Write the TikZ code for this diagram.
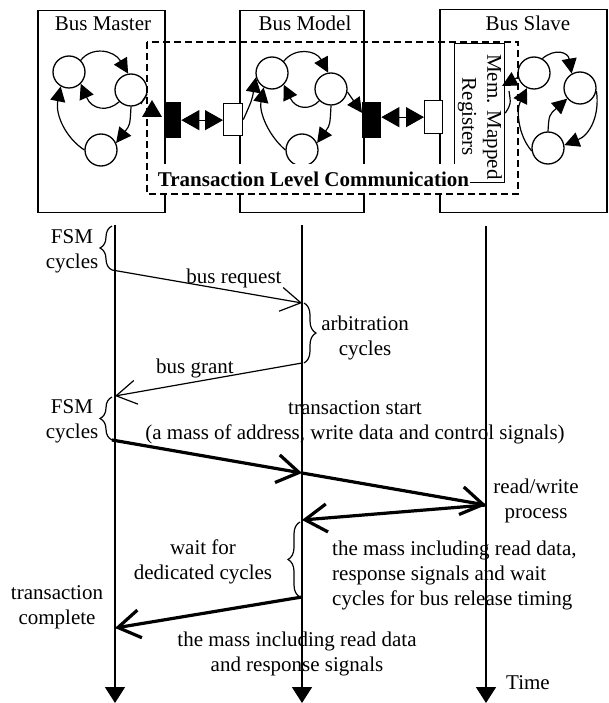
\documentclass[tikz,border=0pt]{standalone}
\usepackage{fontspec}
\setmainfont{Liberation Serif}
\usetikzlibrary{arrows.meta,decorations.pathreplacing,calc}

\begin{document}
\begin{tikzpicture}[x=1pt,y=-1pt,
  frame/.style={draw,line width=1.5pt,inner sep=0pt,anchor=north west},
  state/.style={circle,draw,fill=white,line width=1.3pt,minimum size=32pt,inner sep=0pt},
  fsmarrow/.style={line width=1.2pt,-{Triangle[length=15pt,width=15pt]}},
  port/.style={draw,line width=1.3pt,inner sep=0pt,anchor=north west},
  portarrow/.style={line width=1.2pt,{Triangle[length=18pt,width=20pt]}-{Triangle[length=18pt,width=20pt]}},
  title/.style={font=\fontsize{21}{25}\selectfont,inner sep=0pt,anchor=base},
  lbl/.style={font=\fontsize{21}{25}\selectfont,align=center,inner sep=0pt},
  lifeline/.style={line width=1.6pt,-{Triangle[length=16pt,width=20pt]}},
  msg/.style={line width=1.2pt,-{Straight Barb[length=20pt,width=24pt]}},
  bigmsg/.style={line width=3.2pt,-{Straight Barb[length=22pt,width=28pt]}},
  cbrace/.style={decorate,decoration={brace,amplitude=12pt},line width=1.2pt}
]
\useasboundingbox (0,0) rectangle (608,703);

% ---------- component frames ----------
\node[frame,minimum width=127pt,minimum height=202pt] (master) at (37,10) {};
\node[frame,minimum width=124pt,minimum height=202pt] (model) at (239,10) {};
\node[frame,minimum width=167pt,minimum height=203pt] (slave) at (439,9) {};
\node[title] (tmaster) at (103,30.5) {Bus Master};
\node[title] (tmodel) at (305,30.5) {Bus Model};
\node[title] (tslave) at (528,30.5) {Bus Slave};

% memory mapped registers
\node[frame,line width=1.3pt,minimum width=50pt,minimum height=139pt] (mem) at (454,43) {};
\node[lbl,rotate=-90] (memtxt) at (480,117) {Mem. Mapped\\Registers};

% ---------- ports ----------
\node[port,fill=black,minimum width=16pt,minimum height=35pt] (blk1) at (164,102) {};
\node[port,fill=white,minimum width=19pt,minimum height=32pt] (wht1) at (223,103) {};
\node[port,fill=black,minimum width=18pt,minimum height=35pt] (blk2) at (362,102) {};
\node[port,fill=white,minimum width=18pt,minimum height=33pt] (wht2) at (424,100) {};
\draw[portarrow] (blk1.east) -- (blk1.east -| wht1.west);
\draw[portarrow] (blk2.east |- wht2.west) -- (wht2.west);

% ---------- master FSM ----------
\node[state] (m1) at (69,72) {};
\node[state] (m2) at (131,90) {};
\node[state] (m3) at (101,150) {};
\draw[fsmarrow] (m1.45) .. controls (92,46) and (114,50) .. (m2.100);
\draw[fsmarrow] (m2.225) .. controls (108,112) and (92,110) .. (m1.-45);
\draw[fsmarrow] (m3.180) .. controls (66,138) and (55,115) .. (m1.240);
\draw[fsmarrow] (m2.-90) .. controls (130,125) .. (m3.25);
\draw[line width=1.2pt] (m2.-15) .. controls (143,100) .. (141,104);
\fill (142,117) -- (162,117) -- (152,100) -- cycle;

% ---------- model FSM ----------
\node[state] (d1) at (272,73) {};
\node[state] (d2) at (331,89) {};
\node[state] (d3) at (302,150) {};
\draw[fsmarrow] (d1.45) .. controls (295,47) and (316,50) .. (d2.100);
\draw[fsmarrow] (d2.225) .. controls (311,110) and (296,110) .. (d1.-45);
\draw[fsmarrow] (d3.180) .. controls (268,135) and (259,112) .. (d1.240);
\draw[fsmarrow] (d2.-90) .. controls (330,125) .. (d3.25);
\draw[fsmarrow] (wht1.east) .. controls (252,100) .. (d1.195);
\draw[fsmarrow] (d2.-10) -- ($(blk2.north west)!0.3!(blk2.south west)$);

% ---------- slave FSM ----------
\node[state] (s1) at (534,73) {};
\node[state] (s2) at (580,88) {};
\node[state] (s3) at (548,148) {};
\draw[fsmarrow] (s1.60) .. controls (555,48) and (568,52) .. (s2.120);
\draw[fsmarrow] (s3.90) .. controls (549,115) .. (s2.220);
\draw[fsmarrow] (s2.-10) .. controls (600,115) and (590,135) .. (s3.10);
\draw[fsmarrow] (s3.190) .. controls (518,135) and (516,110) .. (s1.245);
\coordinate (memin) at (502,86);
\draw[fsmarrow] (s1.195) -- (memin);
\draw[line width=1.2pt] (509,91) .. controls (511,104) .. (mem.east);

% ---------- transaction level communication ----------
\node[font=\bfseries\fontsize{21}{25}\selectfont,fill=white,inner xsep=1pt,inner ysep=8pt,anchor=base]
  (tlc) at (313.5,187) {Transaction Level Communication};
\draw[line width=1.5pt,dash pattern=on 7pt off 4pt] (147,42) rectangle (518,194);

% ---------- lifelines ----------
\coordinate (mTop) at (115,225); \coordinate (mBot) at (115,703);
\coordinate (dTop) at (302,225); \coordinate (dBot) at (302,703);
\coordinate (sTop) at (486,226); \coordinate (sBot) at (486,703);
\draw[lifeline] (mTop) -- (mBot);
\draw[lifeline] (dTop) -- (dBot);
\draw[lifeline] (sTop) -- (sBot);

% ---------- message points ----------
\coordinate (req0) at (112,270);  \coordinate (req1) at (302,303);
\coordinate (gnt0) at (302,363);  \coordinate (gnt1) at (115,396);
\coordinate (ts0) at (112,440);   \coordinate (ts1) at (302,473);
\coordinate (ts2) at (486,505);   \coordinate (rd1) at (302,520);
\coordinate (cp0) at (302,597);   \coordinate (cp1) at (115,628);

% braces
\draw[cbrace] (req0) -- (112,226);
\draw[cbrace] (304,303) -- (304,363);
\draw[cbrace] (ts0) -- (112,397);
\draw[cbrace] (300,597) -- (300,522);

% messages
\draw[msg] (req0) -- (req1);
\draw[msg] (gnt0) -- (gnt1);
\draw[bigmsg] (ts0) -- (ts1);
\draw[bigmsg] (ts1) -- (ts2);
\draw[bigmsg] (ts2) -- (rd1);
\draw[bigmsg] (cp0) -- (cp1);

% labels
\node[lbl] (lfsm1) at (72,251) {FSM\\cycles};
\node[lbl] (lreq) at (234,278) {bus request};
\node[lbl] (larb) at (365,338) {arbitration\\cycles};
\node[lbl] (lgnt) at (195,368) {bus grant};
\node[lbl] (lfsm2) at (72,421) {FSM\\cycles};
\node[lbl] (lts) at (355,422) {transaction start\\(a mass of address, write data and control signals)};
\node[lbl] (lrw) at (536,501) {read/write\\process};
\node[lbl,align=left,anchor=west] (lrd) at (332,575) {the mass including read data,\\response signals and wait\\cycles for bus release timing};
\node[lbl] (lwait) at (203,562) {wait for\\dedicated cycles};
\node[lbl] (lcp) at (57,607) {transaction\\complete};
\node[lbl] (lrsp) at (297,654) {the mass including read data\\and response signals};
\node[lbl] (ltime) at (528,683) {Time};
\end{tikzpicture}
\end{document}
